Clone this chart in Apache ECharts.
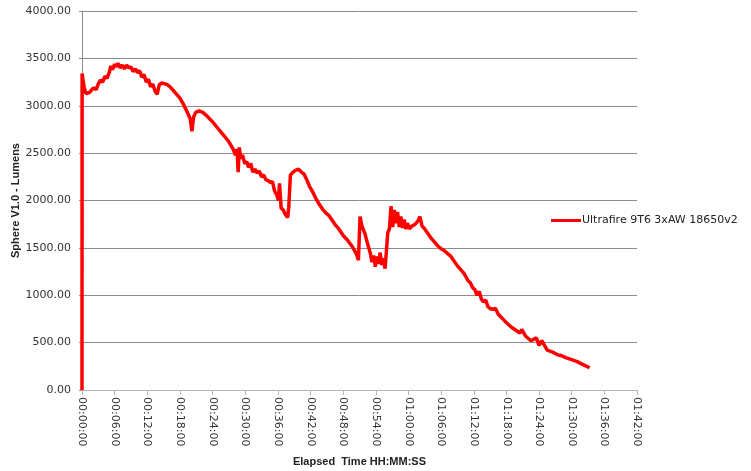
<!DOCTYPE html>
<html>
<head>
<meta charset="utf-8">
<script src="https://cdn.jsdelivr.net/npm/echarts@6/dist/echarts.min.js"></script>
<style>
html,body{margin:0;padding:0;background:#fff;}
#chart{width:751px;height:471px;}
</style>
</head>
<body>
<div id="chart"></div>
<script>
// Elapsed time in minutes
const elapsedMinutes = [0, 0.02, 0.1, 0.4, 0.7, 1.0, 1.4, 1.8, 2.2, 2.6, 3.0, 3.4, 3.8, 4.2, 4.6, 5.0, 5.3, 5.6, 6.0, 6.3, 6.6, 7.0, 7.4, 7.8, 8.2, 8.6, 9.0, 9.4, 9.8, 10.2, 10.6, 11.0, 11.4, 11.8, 12.2, 12.6, 13.0, 13.4, 13.8, 14.2, 14.6, 15.0, 15.6, 16.2, 16.8, 17.4, 18.0, 18.6, 19.2, 19.6, 19.9, 20.2, 20.5, 20.9, 21.5, 22.2, 23.0, 24.0, 25.0, 26.0, 27.0, 27.8, 28.2, 28.5, 28.7, 28.9, 29.2, 29.5, 29.9, 30.3, 30.6, 31.0, 31.4, 31.8, 32.2, 32.6, 33.0, 33.4, 33.8, 34.2, 34.6, 35.0, 35.4, 35.8, 36.1, 36.3, 36.6, 37.0, 37.4, 37.8, 38.0, 38.3, 38.8, 39.3, 39.8, 40.3, 40.8, 41.3, 41.8, 42.4, 43.0, 43.6, 44.2, 44.8, 45.4, 46.0, 46.6, 47.2, 48.0, 48.8, 49.6, 50.4, 50.8, 51.1, 51.5, 52.0, 52.5, 53.0, 53.3, 53.6, 53.9, 54.2, 54.5, 54.8, 55.1, 55.4, 55.7, 56.0, 56.2, 56.5, 56.8, 57.1, 57.4, 57.7, 58.0, 58.3, 58.6, 58.9, 59.2, 59.5, 59.8, 60.2, 60.6, 61.0, 61.4, 61.8, 62.1, 62.5, 63.0, 63.6, 64.2, 64.8, 65.4, 66.0, 66.6, 67.2, 67.8, 68.4, 69.0, 69.6, 70.2, 70.6, 71.0, 71.4, 71.8, 72.2, 72.6, 73.0, 73.4, 73.8, 74.2, 74.6, 75.0, 75.5, 76.0, 76.5, 77.0, 77.5, 78.0, 79.0, 80.0, 80.5, 80.8, 81.5, 82.5, 83.5, 84.0, 84.5, 85.5, 86.5, 87.5, 88.0, 89.0, 90.0, 91.0, 92.0, 93.3];

// Lumens
const lumens = [0, 3340, 3300, 3200, 3130, 3150, 3140, 3170, 3190, 3170, 3230, 3270, 3250, 3310, 3290, 3350, 3420, 3380, 3440, 3410, 3450, 3400, 3430, 3390, 3430, 3400, 3410, 3360, 3390, 3350, 3370, 3300, 3330, 3250, 3280, 3200, 3230, 3160, 3120, 3220, 3240, 3235, 3225, 3200, 3160, 3120, 3080, 3020, 2950, 2900, 2860, 2730, 2880, 2930, 2945, 2930, 2890, 2830, 2760, 2690, 2620, 2540, 2480, 2540, 2300, 2560, 2440, 2480, 2390, 2410, 2350, 2390, 2300, 2330, 2290, 2310, 2250, 2270, 2220, 2210, 2190, 2200, 2100, 2060, 2000, 2180, 1920, 1900, 1850, 1820, 1930, 2270, 2300, 2320, 2330, 2300, 2280, 2220, 2150, 2090, 2020, 1960, 1910, 1870, 1840, 1790, 1740, 1700, 1630, 1580, 1520, 1440, 1370, 1830, 1720, 1650, 1540, 1440, 1350, 1420, 1300, 1410, 1330, 1450, 1320, 1390, 1280, 1260, 1660, 1700, 1940, 1720, 1900, 1760, 1880, 1720, 1830, 1710, 1800, 1700, 1760, 1700, 1730, 1740, 1760, 1790, 1830, 1730, 1700, 1650, 1600, 1560, 1520, 1490, 1470, 1440, 1410, 1360, 1310, 1270, 1230, 1190, 1150, 1130, 1080, 1060, 1000, 1040, 960, 930, 950, 880, 860, 850, 860, 800, 770, 740, 710, 660, 620, 600, 640, 570, 520, 550, 470, 520, 420, 400, 370, 365, 340, 320, 300, 270, 235];

const seriesName = 'Ultrafire 9T6 3xAW 18650v2';
const xTitle = 'Elapsed  Time HH:MM:SS';
const yTitle = 'Sphere V1.0 - Lumens';

function fmtTime(m) {
  const h = Math.floor(m / 60);
  const mm = Math.round(m - h * 60);
  const p = n => (n < 10 ? '0' : '') + n;
  return p(h) + ':' + p(mm) + ':00';
}

const chart = echarts.init(document.getElementById('chart'), null, {renderer: 'canvas'});
chart.setOption({
  animation: false,
  backgroundColor: '#ffffff',
  grid: {left: 82, right: 114, top: 11, bottom: 81, containLabel: false, outerBoundsMode: 'none'},
  legend: {
    show: true,
    left: 546,
    top: 210,
    icon: 'rect',
    itemWidth: 30,
    itemHeight: 3,
    itemGap: 2,
    textStyle: {fontFamily: 'DejaVu Sans', fontSize: 11, color: '#222', padding: [0, 0, 0, -4]},
    data: [seriesName]
  },
  xAxis: {
    type: 'value',
    min: 0,
    max: 102,
    interval: 6,
    name: xTitle,
    nameLocation: 'middle',
    nameGap: 66,
    nameMoveOverlap: false,
    nameTextStyle: {fontFamily: 'Liberation Sans', fontWeight: 'bold', fontSize: 11, color: '#222'},
    axisLine: {show: true, lineStyle: {color: '#b4b4b4', width: 1}},
    axisTick: {show: true, length: 5, lineStyle: {color: '#b4b4b4'}},
    splitLine: {show: false},
    axisLabel: {
      rotate: -90,
      margin: 7,
      fontFamily: 'DejaVu Sans',
      fontSize: 11,
      color: '#333',
      formatter: fmtTime
    }
  },
  yAxis: {
    type: 'value',
    min: 0,
    max: 4000,
    interval: 500,
    name: yTitle,
    nameLocation: 'middle',
    nameGap: 61,
    nameMoveOverlap: false,
    nameTextStyle: {fontFamily: 'Liberation Sans', fontWeight: 'bold', fontSize: 11, color: '#222'},
    axisLine: {show: true, lineStyle: {color: '#8c8c8c', width: 1}},
    axisTick: {show: true, length: 3, lineStyle: {color: '#8c8c8c'}},
    splitLine: {show: true, lineStyle: {color: '#8c8c8c', width: 1}},
    axisLabel: {
      margin: 11,
      fontFamily: 'DejaVu Sans',
      fontSize: 11,
      color: '#333',
      formatter: v => v.toFixed(2)
    }
  },
  series: [{
    name: seriesName,
    type: 'line',
    showSymbol: false,
    symbol: 'none',
    color: '#ff0000',
    lineStyle: {color: '#ff0000', width: 3.5},
    data: elapsedMinutes.map((t, i) => [t, lumens[i]])
  }]
});
</script>
</body>
</html>
